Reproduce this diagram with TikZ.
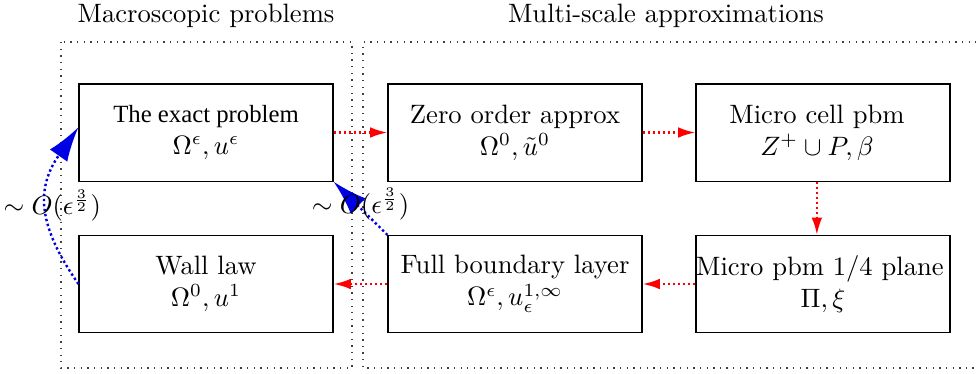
\documentclass[tikz,border=0pt]{standalone}
\usepackage{fontspec}
\newfontfamily\timesfont{Liberation Serif}
\usetikzlibrary{arrows.meta}
\begin{document}
\begin{tikzpicture}[x=0.376pt,y=-0.376pt,
  box/.style={draw,line width=0.4pt,minimum width=95.5pt,minimum height=36.5pt,inner sep=0pt,align=center},
  frame/.style={dotted,line width=0.5pt,black!75},
  redarr/.style={red,densely dotted,line width=0.9pt,-{Latex[length=6.5pt,width=4pt]}},
  bluearr/.style={blue!90!black,densely dotted,line width=0.9pt,-{Latex[length=13pt,width=8pt]}},
  lbl/.style={inner sep=0pt,text=black}]
\useasboundingbox (0,0) rectangle (976,373);
% frames
\draw[frame] (61,42) rectangle (352,368);
\draw[frame] (990,42) -| (363,368) -- (990,368);
% titles
\node (t1) at (206,16) {Macroscopic problems};
\node (t2) at (666,16) {Multi-scale approximations};
% boxes
\node[box] (exact) at (206,132.5) {{\timesfont\fontsize{9.3}{11}\selectfont The exact problem}\\ $\Omega^\epsilon, u^\epsilon$};
\node[box] (zero) at (515,132.5) {Zero order approx\\ $\Omega^0, \tilde u^0$};
\node[box] (mc) at (823,132.5) {\hspace*{-4.5pt}Micro cell pbm\\ \hspace*{-4.5pt}$Z^+\cup P, \beta$};
\node[box] (wall) at (206,284) {Wall law\\ $\Omega^0, u^1$};
\node[box] (full) at (515,284) {Full boundary layer\\ $\Omega^\epsilon, u_\epsilon^{1,\infty}$};
\node[box] (mp) at (823,284) {\hspace*{-2.3pt}Micro pbm 1/4 plane\\ $\Pi, \xi$};
% red arrows
\draw[redarr] (exact.east) -- (zero.west);
\draw[redarr] (zero.east) -- (mc.west);
\draw[redarr] ([xshift=-2.3pt]mc.south) -- ([xshift=-2.3pt]mp.north);
\draw[redarr] (mp.west) -- (full.east);
\draw[redarr] (full.west) -- (wall.east);
% blue arrows
\draw[bluearr] (wall.west) to[out=125,in=-125,looseness=1.2]
  node[lbl,pos=0.5,xshift=2pt,yshift=0pt] {$\sim O(\epsilon^{\frac{3}{2}})$} ([yshift=2pt]exact.west);
\draw[bluearr] (full.north west) --
  node[lbl,pos=0.5,yshift=1.5pt] {$\sim O(\epsilon^{\frac{3}{2}})$} (exact.south east);
\end{tikzpicture}
\end{document}
